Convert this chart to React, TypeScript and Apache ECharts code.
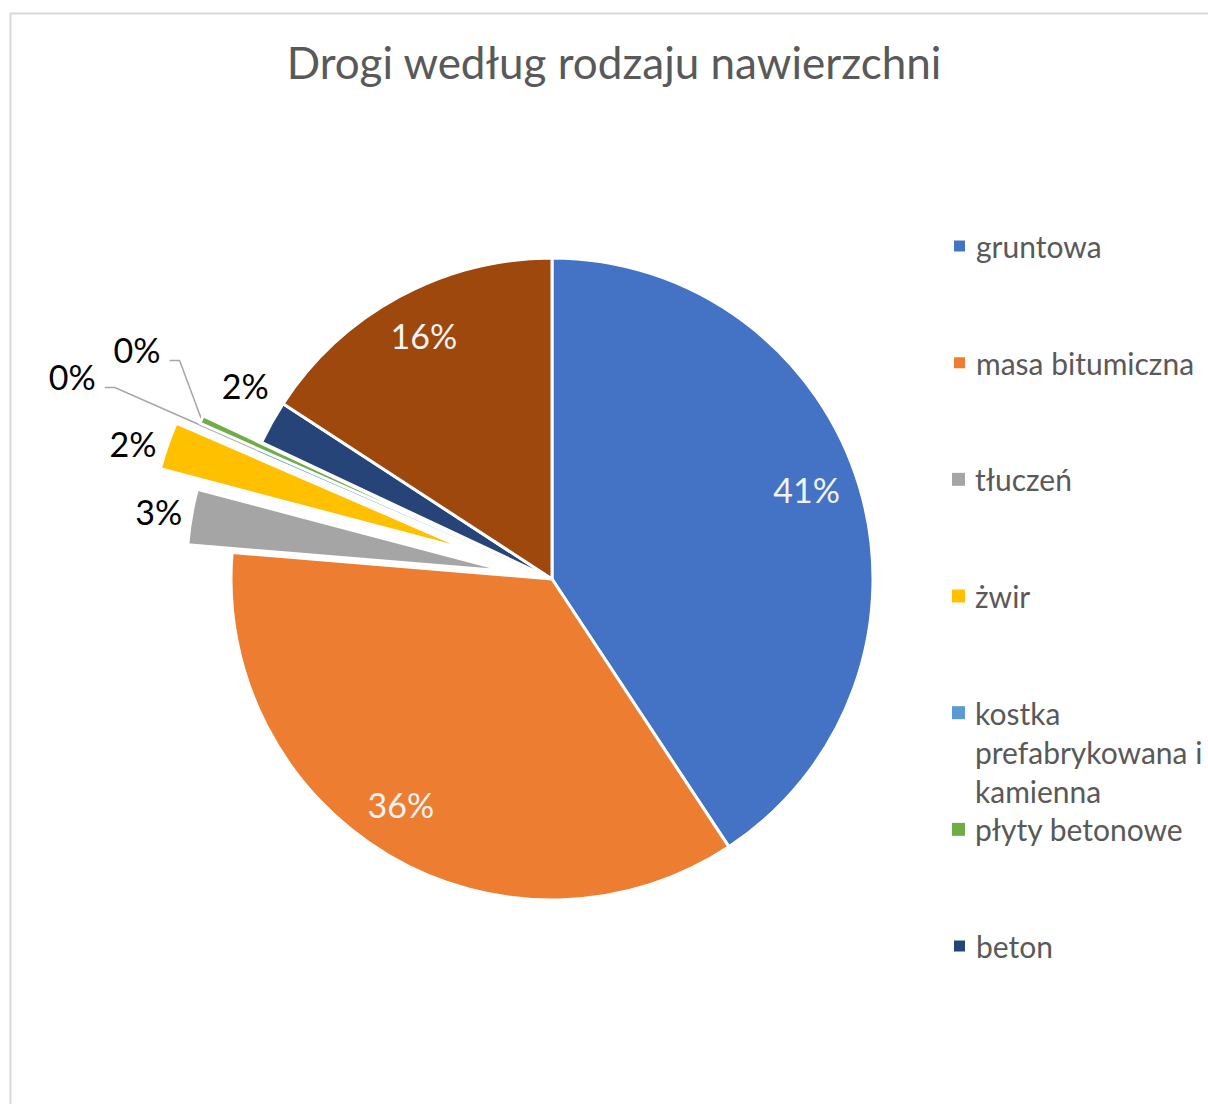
import React, { useEffect, useRef } from 'react';
import * as echarts from 'echarts';

// ---------- data ----------
const TITLE = 'Drogi według rodzaju nawierzchni';
const CATEGORIES = [
  'gruntowa',
  'masa bitumiczna',
  'tłuczeń',
  'żwir',
  'kostka prefabrykowana i kamienna',
  'płyty betonowe',
  'beton',
  'inne',
];
const SHARES = [40.7, 35.6, 2.8, 2.4, 0.08, 0.4, 2.2, 15.8];
const LEGEND_COUNT = 7;
const LEGEND_LABELS = [
  'gruntowa',
  'masa bitumiczna',
  'tłuczeń',
  'żwir',
  'kostka\nprefabrykowana i\nkamienna',
  'płyty betonowe',
  'beton',
];

// ---------- styles ----------
const COLORS = ['#4472C4', '#ED7D31', '#A5A5A5', '#FFC000', '#5B9BD5', '#70AD47', '#264478', '#9E480E'];
const EXPLODE = [0, 0, 45, 86, 0, 64, 0, 0];
const INSIDE = [true, true, false, false, false, false, false, true];
const LEADER = [false, false, false, false, true, true, false, false];
const NUDGE: Record<number, [number, number]> = {
  0: [-3, -12],
  1: [-14, -6],
  2: [-4, -5],
  3: [-6, -2],
  4: [-157, -74],
  5: [-36, -70],
  6: [2, -37],
  7: [0, -7],
};
const FONT = 'Lato';
const CENTER = [552, 579];
const RADIUS = 321;
const INSIDE_PUSH = 0.645;

function labelLayout(p: any) {
  const i = p.dataIndex;
  const r = p.labelRect;
  const n = NUDGE[i] || [0, 0];
  if (INSIDE[i]) {
    const cx = r.x + r.width / 2;
    const cy = r.y + r.height / 2;
    return {
      dx: (cx - CENTER[0]) * INSIDE_PUSH + n[0],
      dy: (cy - CENTER[1]) * INSIDE_PUSH + n[1],
    };
  }
  if (LEADER[i] && p.labelLinePoints) {
    const p0 = p.labelLinePoints[0];
    const right = r.x + r.width + n[0] + 9;
    const y = r.y + r.height / 2 + n[1] + 11;
    return { dx: n[0], dy: n[1], labelLinePoints: [p0, [right + 10, y], [right, y]] };
  }
  return { dx: n[0], dy: n[1] };
}

export default function App() {
  const ref = useRef<HTMLDivElement>(null);
  useEffect(() => {
    if (!ref.current) return;
    const chart = echarts.init(ref.current, undefined, { renderer: 'svg' });
    const groups = Array.from(new Set(EXPLODE));
    const series = groups.map((off) => ({
      type: 'pie',
      center: CENTER,
      radius: RADIUS,
      startAngle: 90,
      clockwise: true,
      selectedMode: off > 0 ? 'multiple' : false,
      selectedOffset: off,
      avoidLabelOverlap: false,
      silent: true,
      emphasis: { disabled: true },
      label: {
        show: true,
        position: 'outside',
        fontFamily: FONT,
        fontSize: 34,
        color: '#000000',
        distanceToLabelLine: 5,
        formatter: (p: any) => Math.round(p.percent) + '%',
      },
      labelLine: {
        show: true,
        length: 0,
        length2: 0,
        lineStyle: { color: '#a6a6a6', width: 1.5 },
      },
      itemStyle: { borderColor: '#ffffff', borderWidth: 3 },
      labelLayout,
      data: CATEGORIES.map((name, i) => {
        if (EXPLODE[i] !== off) {
          return {
            name,
            value: SHARES[i],
            itemStyle: { color: 'transparent', borderWidth: 0 },
            label: { show: false },
            labelLine: { show: false },
          };
        }
        return {
          name,
          value: SHARES[i],
          selected: off > 0,
          itemStyle: { color: COLORS[i], borderWidth: SHARES[i] < 0.2 ? 0 : 3 },
          label: INSIDE[i] ? { position: 'inside', color: '#f2f2f2' } : {},
          labelLine: { show: LEADER[i] },
        };
      }),
    }));

    const legends = CATEGORIES.slice(0, LEGEND_COUNT).map((name, i) => {
      const extra = LEGEND_LABELS[i].split('\n').length - 1;
      // leading blank lines keep the marker level with the first line
      const text = '\n'.repeat(extra) + LEGEND_LABELS[i];
      const lines = extra * 2 + 1;
      return {
        orient: 'vertical',
        left: 952,
        top: 246 + i * 116.67 - (lines * 39) / 2,
        padding: 0,
        selectedMode: false,
        icon: 'rect',
        itemWidth: 13,
        itemHeight: 13,
        data: [{ name, itemStyle: { color: COLORS[i] } }],
        formatter: () => text,
        textStyle: {
          fontFamily: FONT,
          fontSize: 30,
          color: '#595959',
          lineHeight: 39,
          padding: [0, 0, 0, 5],
        },
      };
    });

    chart.setOption({
      animation: false,
      backgroundColor: '#ffffff',
      title: {
        text: TITLE,
        left: 614,
        top: 34,
        padding: 0,
        textAlign: 'center',
        textVerticalAlign: 'top',
        textStyle: {
          fontFamily: FONT,
          fontSize: 44,
          fontWeight: 'normal',
          color: '#595959',
          lineHeight: 56,
        },
      },
      legend: legends,
      graphic: [
        {
          type: 'rect',
          silent: true,
          z: -10,
          shape: { x: 10.5, y: 13.5, width: 1400, height: 1300 },
          style: { fill: 'none', stroke: '#d9d9d9', lineWidth: 2 },
        },
      ],
      series,
    });
    return () => chart.dispose();
  }, []);
  return (
    <div
      ref={ref}
      style={{ position: 'absolute', left: 0, top: 0, width: 1208, height: 1104, background: '#fff' }}
    />
  );
}
